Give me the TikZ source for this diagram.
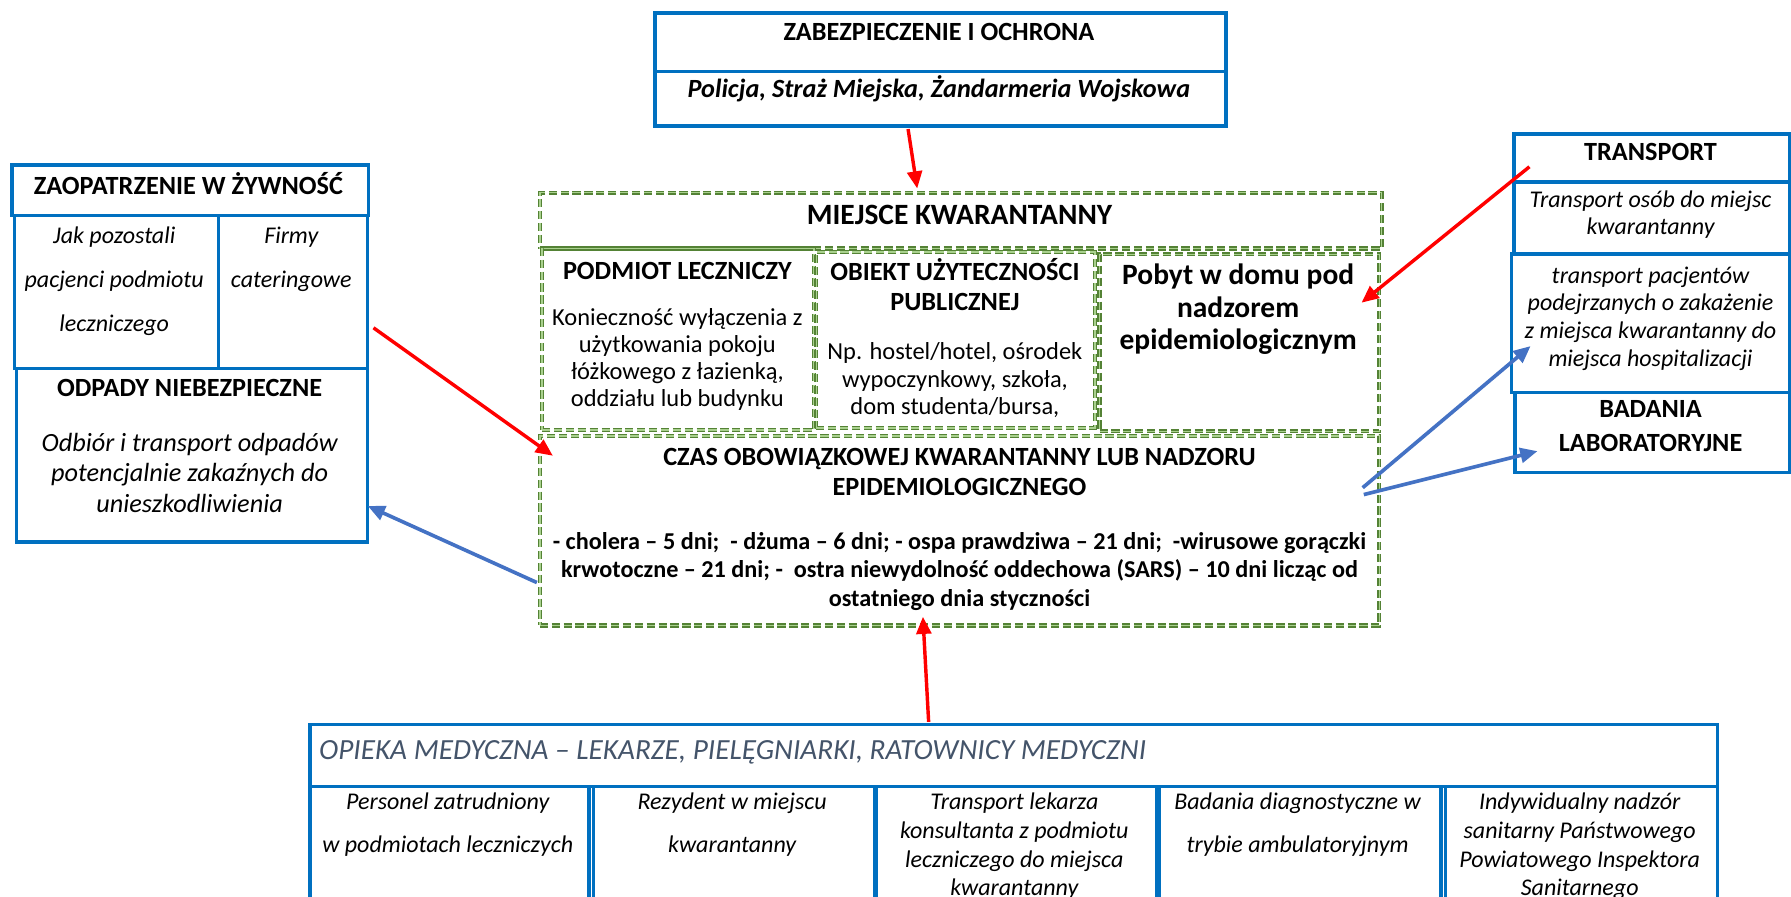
\documentclass[tikz,border=0pt]{standalone}
\usepackage{fontspec}
\setmainfont{Carlito}
\usetikzlibrary{arrows.meta}
\definecolor{boxblue}{HTML}{0070C0}
\definecolor{arrred}{HTML}{FF0000}
\definecolor{arrblue}{HTML}{4472C4}
\definecolor{gdark}{HTML}{548235}
\definecolor{glight}{HTML}{A9D18E}
\definecolor{headgrey}{HTML}{44546A}
% box from top-left (x1,y1) to bottom-right (x2,y2)
\newcommand\mkbox[6]{\node[#6, anchor=north west, minimum width={(#4-#2)*0.5pt}, minimum height={(#5-#3)*0.5pt}] (#1) at (#2,#3) {};}
\begin{document}
\begin{tikzpicture}[x=0.5pt,y=-0.5pt,
  bx/.style={draw=boxblue, line width=1.5pt, inner sep=0pt},
  gbx/.style={draw=gdark, line width=0.6pt, double=glight, double distance=0.6pt, dash pattern=on 3.6pt off 1.6pt, inner sep=0pt},
  hd/.style={font={\bfseries\fontsize{11.5}{#1}\selectfont}, align=center, inner sep=0pt},
  hd/.default=14,
  hdb/.style={font={\bfseries\fontsize{12.9}{#1}\selectfont}, align=center, inner sep=0pt},
  hdb/.default=15,
  bi/.style={font={\bfseries\itshape\fontsize{11.5}{#1}\selectfont}, align=center, inner sep=0pt},
  bi/.default=14,
  it/.style={font={\itshape\fontsize{10.5}{#1}\selectfont}, align=center, inner sep=0pt},
  it/.default=13,
  itl/.style={font={\itshape\fontsize{11.5}{#1}\selectfont}, align=center, inner sep=0pt},
  itl/.default=14,
  rg/.style={font={\fontsize{10.7}{#1}\selectfont}, align=center, inner sep=0pt},
  rg/.default=13,
  bd/.style={font={\bfseries\fontsize{10.6}{#1}\selectfont}, align=center, inner sep=0pt},
  bd/.default=12.5,
  redarr/.style={draw=arrred, line width=1.5pt, -{Triangle[length=7.5pt,width=6.5pt]}},
  bluearr/.style={draw=arrblue, line width=1.6pt, -{Triangle[length=7.5pt,width=6.5pt]}}]
\useasboundingbox (0,0) rectangle (1568,785);
\clip (0,0) rectangle (1568,785);

% security
\mkbox{zabT}{572}{10}{1072}{61}{bx}
\mkbox{zabB}{572}{61}{1072}{109}{bx}
\node[hd] (zabTt) at (822,28) {ZABEZPIECZENIE I OCHRONA};
\node[bi] (zabBt) at (822,78) {Policja, Straż Miejska, Żandarmeria Wojskowa};

% food supply
\mkbox{zaoT}{9}{143}{321}{187}{bx}
\mkbox{zaoL}{11}{187}{190}{321}{bx}
\mkbox{zaoR}{190}{187}{320}{321}{bx}
\node[hd] (zaoTt) at (165,161) {ZAOPATRZENIE W ŻYWNOŚĆ};
\node[it=19.3] (zaoLt) at (100,246) {Jak pozostali\\pacjenci podmiotu\\leczniczego};
\node[it=19.3] (zaoRt) at (255,227) {Firmy\\cateringowe};

% hazardous waste
\mkbox{odp}{13}{321}{320}{473}{bx}
\node[hd] (odpT) at (166,340) {ODPADY NIEBEZPIECZNE};
\node[itl=13.5] (odpB) at (166,414) {Odbiór i transport odpadów\\potencjalnie zakaźnych do\\unieszkodliwienia};

% quarantine place
\mkbox{mieT}{472}{168}{1209}{217}{gbx}
\mkbox{pod}{474}{217}{712}{376}{gbx}
\mkbox{obi}{714}{220}{958}{374}{gbx}
\mkbox{pob}{962}{222}{1207}{377}{gbx}
\mkbox{czas}{472}{381}{1207}{547}{gbx}
\node[hdb] (mieTt) at (840,188) {MIEJSCE KWARANTANNY};
\node[hd] (podT) at (593,237) {PODMIOT LECZNICZY};
\node[rg=11.8] (podB) at (593,315) {Konieczność wyłączenia z\\użytkowania pokoju\\łóżkowego z łazienką,\\oddziału lub budynku};
\node[hd=13.2] (obiT) at (836,249) {OBIEKT UŻYTECZNOŚCI\\PUBLICZNEJ};
\node[rg=12] (obiB) at (836,333) {Np. hostel/hotel, ośrodek\\wypoczynkowy, szkoła,\\dom studenta/bursa,};
\node[hdb=14.2] (pobT) at (1084,271) {Pobyt w domu pod\\nadzorem\\epidemiologicznym};
\node[hd=13] (czasT) at (840,413) {CZAS OBOWIĄZKOWEJ KWARANTANNY LUB NADZORU\\EPIDEMIOLOGICZNEGO};
\node[bd=12.5] (czasB) at (840,500) {- cholera – 5 dni;\ \ - dżuma – 6 dni; - ospa prawdziwa – 21 dni;\ \ -wirusowe gorączki\\krwotoczne – 21 dni; -\ \ ostra niewydolność oddechowa (SARS) – 10 dni licząc od\\ostatniego dnia styczności};

% transport
\mkbox{trT}{1324}{116}{1565}{158}{bx}
\mkbox{trA}{1324}{158}{1565}{221}{bx}
\mkbox{trB}{1322}{221}{1565}{342}{bx}
\mkbox{bad}{1325}{342}{1565}{412}{bx}
\node[hd] (trTt) at (1445,133) {TRANSPORT};
\node[it=11.8] (trAt) at (1445,188) {Transport osób do miejsc\\kwarantanny};
\node[it=12.2] (trBt) at (1445,279) {transport pacjentów\\podejrzanych o zakażenie\\z miejsca kwarantanny do\\miejsca hospitalizacji};
\node[hd=14.5] (badt) at (1445,373) {BADANIA\\LABORATORYJNE};

% medical care
\mkbox{opT}{270}{633}{1502}{687}{bx}
\mkbox{op1}{270}{687}{514}{800}{bx}
\mkbox{op2}{518}{687}{764}{800}{bx}
\mkbox{op3}{766}{687}{1011}{800}{bx}
\mkbox{op4}{1013}{687}{1260}{800}{bx}
\mkbox{op5}{1264}{687}{1502}{800}{bx}
\node[font={\itshape\fontsize{12.8}{15}\selectfont}, text=headgrey, anchor=west, inner sep=0pt] (opTt) at (279,659) {OPIEKA MEDYCZNA – LEKARZE, PIELĘGNIARKI, RATOWNICY MEDYCZNI};
\node[it=19] (op1t) at (392,722) {Personel zatrudniony\\w podmiotach leczniczych};
\node[it=19] (op2t) at (641,722) {Rezydent w miejscu\\kwarantanny};
\node[it=12.6] (op3t) at (888,741) {Transport lekarza\\konsultanta z podmiotu\\leczniczego do miejsca\\kwarantanny};
\node[it=19] (op4t) at (1136,722) {Badania diagnostyczne w\\trybie ambulatoryjnym};
\node[it=12.6] (op5t) at (1383,741) {Indywidualny nadzór\\sanitarny Państwowego\\Powiatowego Inspektora\\Sanitarnego};

% connector ends
\coordinate (r1s) at (795,113);  \coordinate (r1e) at (803,165);
\coordinate (r2s) at (327,287);  \coordinate (r2e) at (484,399);
\coordinate (r3s) at (1339,146); \coordinate (r3e) at (1192,265);
\coordinate (r4s) at (813,632);  \coordinate (r4e) at (808,540);
\coordinate (b1s) at (470,510);  \coordinate (b1e) at (322,443);
\coordinate (b2s) at (1193,427); \coordinate (b2e) at (1340,303);
\coordinate (b3s) at (1194,433); \coordinate (b3e) at (1346,395);

\draw[redarr] (r1s) -- (r1e);
\draw[redarr] (r2s) -- (r2e);
\draw[redarr] (r3s) -- (r3e);
\draw[redarr] (r4s) -- (r4e);
\draw[bluearr] (b1s) -- (b1e);
\draw[bluearr] (b2s) -- (b2e);
\draw[bluearr] (b3s) -- (b3e);
\end{tikzpicture}
\end{document}
